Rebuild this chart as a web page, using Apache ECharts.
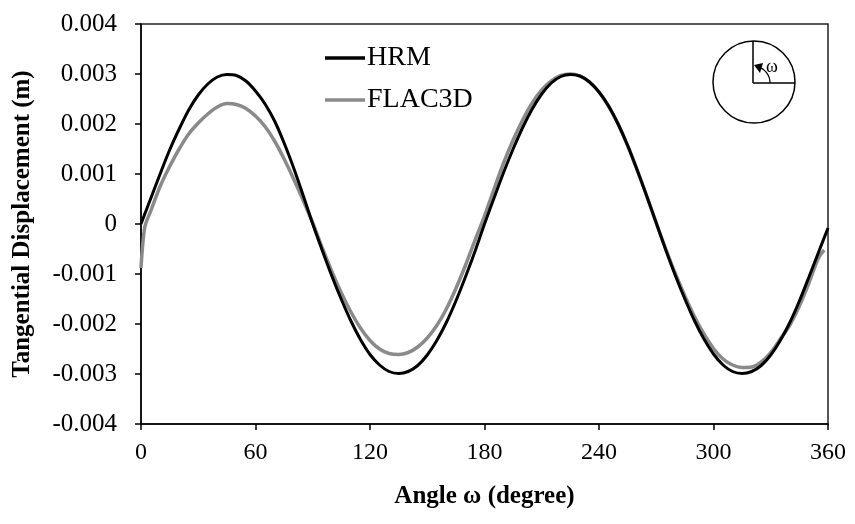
<!DOCTYPE html>
<html>
<head>
<meta charset="utf-8">
<title>Tangential Displacement</title>
<script src="https://cdn.jsdelivr.net/npm/echarts@6/dist/echarts.min.js"></script>
<style>
  html, body { margin: 0; padding: 0; background: #fff; }
  #chart { width: 855px; height: 524px; }
</style>
</head>
<body>
<div id="chart"></div>
<script>
// angle (degree)
var hrmAngle = [0, 5, 10, 15, 20, 25, 30, 35, 40, 45, 50, 55, 60, 65, 70, 75, 80, 85, 90,
    95, 100, 105, 110, 115, 120, 125, 130, 135, 140, 145, 150, 155, 160, 165, 170, 175, 180,
    185, 190, 195, 200, 205, 210, 215, 220, 225, 230, 235, 240, 245, 250, 255, 260, 265, 270,
    275, 280, 285, 290, 295, 300, 305, 310, 315, 320, 325, 330, 335, 340, 345, 350, 355, 360];
// tangential displacement (m)
var hrmValue = [0, 0.0005, 0.001, 0.00148, 0.0019, 0.00228, 0.00258, 0.0028, 0.00294, 0.00299, 0.00297, 0.00286, 0.00266, 0.0024, 0.00206, 0.00162, 0.00112, 0.00057, 0,
    -0.00053, -0.00104, -0.00151, -0.00194, -0.00231, -0.00261, -0.00282, -0.00295, -0.00299, -0.00295, -0.00283, -0.00262, -0.00233, -0.00197, -0.00154, -0.00106, -0.00055, 0,
    0.00052, 0.00103, 0.0015, 0.00193, 0.0023, 0.0026, 0.00282, 0.00295, 0.00299, 0.00296, 0.00284, 0.00264, 0.00236, 0.002, 0.00157, 0.00108, 0.00056, 0.00002,
    -0.00052, -0.00103, -0.0015, -0.00193, -0.0023, -0.0026, -0.00282, -0.00295, -0.00299, -0.00295, -0.00283, -0.00262, -0.00233, -0.00197, -0.00154, -0.00106, -0.00057, -0.00008];

var flacAngle = [0, 2, 5, 10, 15, 20, 25, 30, 35, 40, 45, 50, 55, 60, 65, 70, 75, 80, 85, 90,
    95, 100, 105, 110, 115, 120, 125, 130, 135, 140, 145, 150, 155, 160, 165, 170, 175, 180,
    185, 190, 195, 200, 205, 210, 215, 220, 225, 230, 235, 240, 245, 250, 255, 260, 265, 270,
    275, 280, 285, 290, 295, 300, 305, 310, 315, 320, 325, 330, 335, 340, 345, 350, 355, 358];
var flacValue = [-0.00088, -0.00006, 0.00025, 0.00075, 0.00115, 0.0015, 0.0018, 0.00202, 0.0022, 0.00234, 0.00241, 0.00239, 0.00231, 0.00216, 0.00195, 0.00166, 0.0013, 0.0009, 0.00047, 0.00002,
    -0.00048, -0.00095, -0.00138, -0.00176, -0.00208, -0.00233, -0.0025, -0.00259, -0.00261, -0.00257, -0.00246, -0.00228, -0.00203, -0.0017, -0.00129, -0.00083, -0.00033, 0.00016,
    0.0007, 0.00122, 0.00168, 0.00208, 0.00242, 0.00268, 0.00286, 0.00297, 0.003, 0.00296, 0.00284, 0.00264, 0.00236, 0.002, 0.00157, 0.00108, 0.00056, 0.00002,
    -0.0005, -0.00099, -0.00144, -0.00185, -0.0022, -0.00249, -0.0027, -0.00282, -0.00287, -0.00286, -0.00276, -0.00257, -0.0023, -0.00202, -0.00164, -0.00118, -0.00068, -0.00052];

var yTicks = [-0.004, 0.004, 0.001]; // min, max, step
var xTicks = [0, 360, 60];

function pairs(xs, ys) {
    return xs.map(function (x, i) { return [x, ys[i]]; });
}

var serif = '"Liberation Serif", "Times New Roman", serif';

var chart = echarts.init(document.getElementById('chart'));
chart.setOption({
    animation: false,
    textStyle: { fontFamily: serif },
    grid: {
        left: 141,
        right: 27,
        top: 24,
        bottom: 100,
        outerBoundsMode: 'none',
        show: true,
        borderColor: '#222',
        borderWidth: 1.5
    },
    legend: {
        orient: 'vertical',
        left: 325,
        top: 44,
        padding: 0,
        icon: 'rect',
        itemWidth: 40,
        itemHeight: 3.5,
        itemGap: 14,
        textStyle: { fontFamily: serif, fontSize: 28, color: '#000', padding: [0, 0, 0, -3] },
        data: ['HRM', 'FLAC3D']
    },
    xAxis: {
        type: 'value',
        min: xTicks[0],
        max: xTicks[1],
        interval: xTicks[2],
        name: 'Angle ω (degree)',
        nameLocation: 'middle',
        nameGap: 60,
        nameTextStyle: { fontFamily: serif, fontSize: 25, fontWeight: 'bold', color: '#000' },
        axisLine: { onZero: false, lineStyle: { color: '#000', width: 1.5 } },
        axisTick: { show: true, length: 6, lineStyle: { color: '#000', width: 1.5 } },
        axisLabel: { fontFamily: serif, fontSize: 24, color: '#000', margin: 17 },
        splitLine: { show: false }
    },
    yAxis: {
        type: 'value',
        min: yTicks[0],
        max: yTicks[1],
        interval: yTicks[2],
        name: 'Tangential Displacement (m)',
        nameLocation: 'middle',
        nameGap: 106,
        nameTextStyle: { fontFamily: serif, fontSize: 25, fontWeight: 'bold', color: '#000' },
        axisLine: { show: true, onZero: false, lineStyle: { color: '#000', width: 1.5 } },
        axisTick: { show: true, length: 6, lineStyle: { color: '#000', width: 1.5 } },
        axisLabel: {
            fontFamily: serif, fontSize: 25, color: '#000', margin: 24,
            formatter: function (v) {
                return Math.abs(v) < 1e-9 ? '0' : v.toFixed(3);
            }
        },
        splitLine: { show: false }
    },
    series: [{
        name: 'HRM',
        type: 'line',
        data: pairs(hrmAngle, hrmValue),
        symbol: 'none',
        smooth: 0.3,
        z: 3,
        itemStyle: { color: '#000' },
        lineStyle: { color: '#000', width: 3 }
    }, {
        name: 'FLAC3D',
        type: 'line',
        data: pairs(flacAngle, flacValue),
        symbol: 'none',
        smooth: 0.3,
        z: 2,
        itemStyle: { color: '#8a8a8a' },
        lineStyle: { color: '#8a8a8a', width: 3.5 }
    }],
    graphic: [
        // little sketch of the angle convention (top right)
        { type: 'circle', shape: { cx: 754, cy: 82, r: 41 }, style: { fill: 'none', stroke: '#000', lineWidth: 1.5 } },
        { type: 'line', shape: { x1: 753, y1: 41, x2: 753, y2: 83 }, style: { stroke: '#000', lineWidth: 1.5 } },
        { type: 'line', shape: { x1: 753, y1: 83, x2: 795, y2: 83 }, style: { stroke: '#000', lineWidth: 1.5 } },
        { type: 'arc', shape: { cx: 753, cy: 83, r: 17, startAngle: -1.3, endAngle: 0, clockwise: true }, style: { fill: 'none', stroke: '#000', lineWidth: 1.2 } },
        { type: 'polygon', shape: { points: [[754, 65], [763, 63], [760, 73]] }, style: { fill: '#000' } },
        { type: 'text', style: { x: 766, y: 58, text: 'ω', font: '18px ' + serif, fill: '#000' } }
    ]
});
</script>
</body>
</html>
